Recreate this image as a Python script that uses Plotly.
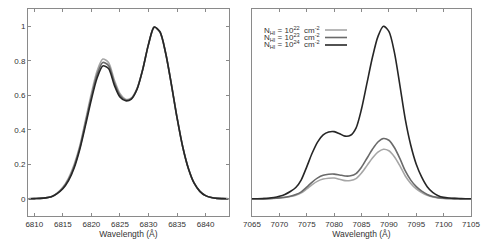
import plotly.graph_objects as go

# ---- data ----
wl_left = [6809, 6810, 6811, 6812, 6813, 6814, 6815, 6816, 6817, 6818, 6819, 6820,
           6821, 6822, 6823, 6824, 6825, 6826, 6827, 6828, 6829, 6830, 6831, 6832,
           6833, 6834, 6835, 6836, 6837, 6838, 6839, 6840, 6841, 6842, 6843, 6844]
left_n22 = [0, 0.001, 0.002, 0.005, 0.013, 0.033, 0.066, 0.12, 0.20, 0.31, 0.46, 0.61,
            0.74, 0.81, 0.79, 0.69, 0.61, 0.577, 0.584, 0.64, 0.752, 0.896, 0.995, 0.968,
            0.845, 0.665, 0.47, 0.30, 0.174, 0.09, 0.043, 0.018, 0.007, 0.002, 0.0005, 0]
left_n23 = [0, 0.001, 0.002, 0.005, 0.012, 0.031, 0.062, 0.112, 0.19, 0.30, 0.445, 0.592,
            0.72, 0.79, 0.773, 0.675, 0.60, 0.572, 0.581, 0.637, 0.751, 0.895, 0.995, 0.968,
            0.845, 0.665, 0.47, 0.30, 0.174, 0.09, 0.043, 0.018, 0.007, 0.002, 0.0005, 0]
left_n24 = [0, 0.001, 0.002, 0.005, 0.012, 0.03, 0.058, 0.105, 0.18, 0.29, 0.43, 0.575,
            0.70, 0.77, 0.755, 0.66, 0.59, 0.568, 0.578, 0.635, 0.75, 0.895, 0.995, 0.968,
            0.845, 0.665, 0.47, 0.30, 0.174, 0.09, 0.043, 0.018, 0.007, 0.002, 0.0005, 0]

wl_right = list(range(7065, 7106))
right_n22 = [0, 0, 0.0003, 0.0009, 0.002, 0.0043, 0.0077, 0.013, 0.021, 0.034, 0.057,
             0.082, 0.102, 0.114, 0.119, 0.120, 0.113, 0.105, 0.106, 0.117, 0.149,
             0.192, 0.236, 0.27, 0.287, 0.278, 0.244, 0.192, 0.132, 0.089, 0.057,
             0.036, 0.02, 0.011, 0.005, 0.0023, 0.001, 0.0005, 0.0002, 0, 0]
right_n23 = [0, 0, 0.0004, 0.001, 0.0025, 0.005, 0.009, 0.015, 0.024, 0.04, 0.067,
             0.097, 0.121, 0.136, 0.142, 0.143, 0.138, 0.132, 0.133, 0.146, 0.183,
             0.235, 0.287, 0.329, 0.349, 0.339, 0.297, 0.234, 0.161, 0.108, 0.07,
             0.044, 0.025, 0.013, 0.0063, 0.0028, 0.0014, 0.0007, 0.0003, 0, 0]
right_n24 = [0, 0, 0.001, 0.003, 0.007, 0.014, 0.025, 0.042, 0.065, 0.11, 0.185,
             0.265, 0.33, 0.37, 0.387, 0.389, 0.377, 0.363, 0.368, 0.41, 0.52,
             0.67, 0.82, 0.94, 1.0, 0.97, 0.85, 0.66, 0.46, 0.31, 0.20,
             0.125, 0.07, 0.037, 0.018, 0.008, 0.004, 0.002, 0.001, 0, 0]

series_names = ["10<sup>22</sup>", "10<sup>23</sup>", "10<sup>24</sup>"]
series_colors = ["#a6a6a6", "#6a6a6a", "#262626"]
left_tickvals = [6810, 6815, 6820, 6825, 6830, 6835, 6840]
right_tickvals = [7065, 7070, 7075, 7080, 7085, 7090, 7095, 7100, 7105]
y_tickvals = [0, 0.2, 0.4, 0.6, 0.8, 1]
x_title = "Wavelength (Å)"

FONT = "Liberation Sans, Arial, sans-serif"
TXT = "#333333"
FRAME = "#8a8a8a"

fig = go.Figure()
for ys, c in zip([left_n22, left_n23, left_n24], series_colors):
    fig.add_trace(go.Scatter(x=wl_left, y=ys, mode="lines", xaxis="x", yaxis="y",
                             line=dict(color=c, width=1.6, shape="spline", smoothing=0.8),
                             showlegend=False, hoverinfo="skip"))
for ys, c in zip([right_n22, right_n23, right_n24], series_colors):
    fig.add_trace(go.Scatter(x=wl_right, y=ys, mode="lines", xaxis="x2", yaxis="y2",
                             line=dict(color=c, width=1.6, shape="spline", smoothing=0.8),
                             showlegend=False, hoverinfo="skip"))

W, H = 484, 242
ydom = [1 - 216 / H, 1 - 9 / H]
common_x = dict(showline=True, linecolor=FRAME, linewidth=1, mirror="ticks",
                ticks="inside", ticklen=3, tickcolor=FRAME, tickwidth=1,
                showgrid=False, zeroline=False, automargin=False,
                tickfont=dict(family=FONT, size=8, color=TXT),
                title=dict(text=x_title, font=dict(family=FONT, size=8.5, color=TXT), standoff=3))
fig.update_layout(
    width=W, height=H,
    margin=dict(l=0, r=0, t=0, b=0),
    paper_bgcolor="white", plot_bgcolor="white",
    showlegend=False,
    xaxis=dict(domain=[28 / W, 229 / W], range=[6808.9, 6844.1], tickvals=left_tickvals,
               anchor="y", **common_x),
    yaxis=dict(domain=ydom, range=[-0.1, 1.1], tickvals=y_tickvals,
               ticktext=["0", "0.2", "0.4", "0.6", "0.8", "1"],
               showline=True, linecolor=FRAME, linewidth=1, mirror="ticks",
               ticks="inside", ticklen=3, tickcolor=FRAME, showgrid=False, zeroline=False,
               automargin=False,
               tickfont=dict(family=FONT, size=8, color=TXT), anchor="x"),
    xaxis2=dict(domain=[252 / W, 471 / W], range=[7065, 7105], tickvals=right_tickvals,
                anchor="y2", **common_x),
    yaxis2=dict(domain=ydom, range=[-0.1, 1.1], showline=True, linecolor=FRAME,
                linewidth=1, mirror=True, ticks="", showticklabels=False,
                automargin=False,
                showgrid=False, zeroline=False, anchor="x2"),
)

# manual legend (text left, sample line right), inside right panel
leg_y = [30, 37.5, 45]
for name, c, yp in zip(series_names, series_colors, leg_y):
    fig.add_annotation(xref="paper", yref="paper", x=262 / W, y=1 - yp / H,
                       xanchor="left", yanchor="middle", showarrow=False,
                       text="N<sub>HI</sub> = " + name + "  cm<sup>-2</sup>",
                       font=dict(family=FONT, size=8, color=TXT))
    fig.add_shape(type="line", xref="paper", yref="paper",
                  x0=325 / W, x1=347 / W, y0=1 - yp / H, y1=1 - yp / H,
                  line=dict(color=c, width=1.6))

fig.write_html("out.html", config={"displayModeBar": False},
               post_script="document.body.style.margin='0';document.body.style.overflow='hidden';")
